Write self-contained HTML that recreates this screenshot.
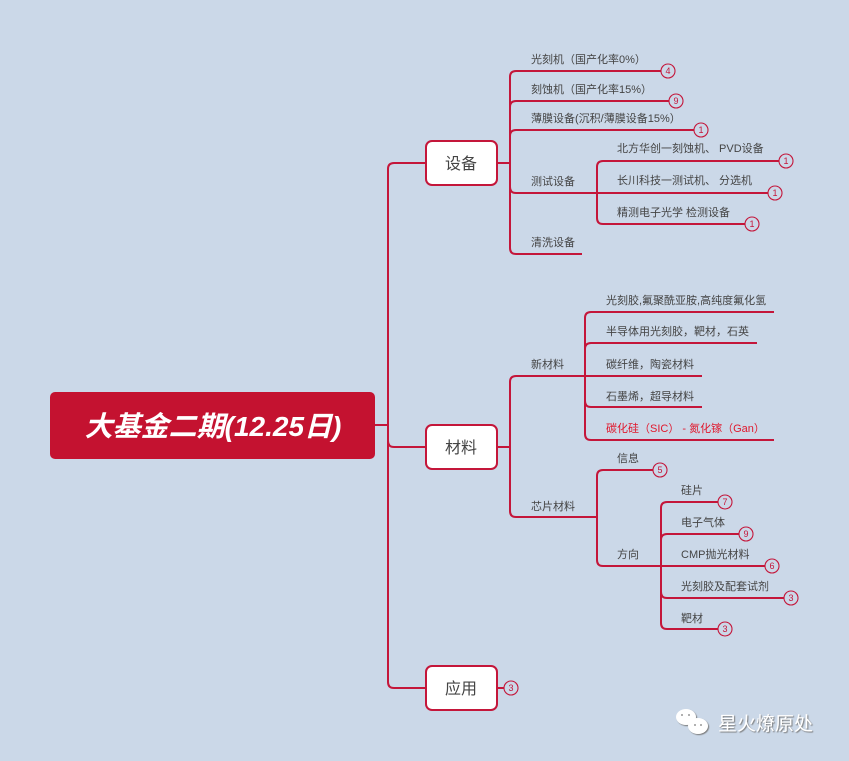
<!DOCTYPE html>
<html><head><meta charset="utf-8"><style>
html,body{margin:0;padding:0;background:#cbd8e8;}
svg{display:block;}
text{font-family:"Liberation Sans","Noto Sans CJK SC",sans-serif;}
</style></head><body>
<svg width="849" height="761" viewBox="0 0 849 761" xmlns="http://www.w3.org/2000/svg">
<defs><filter id="sh"><feDropShadow dx="1" dy="1" stdDeviation="0.6" flood-color="#777"/></filter></defs>
<rect width="849" height="761" fill="#cbd8e8"/>
<g fill="none" stroke="#c4163a" stroke-width="2">
<path d="M375 425 H388"/>
<path d="M426 163 H394 Q388 163 388 169 V682 Q388 688 394 688 H426"/>
<path d="M388 441 Q388 447 394 447 H426"/>
<path d="M497 163 H510"/>
<path d="M661 71 H516 Q510 71 510 77 V248 Q510 254 516 254 H582"/>
<path d="M510 107 Q510 101 516 101 H669"/>
<path d="M510 136 Q510 130 516 130 H694"/>
<path d="M510 187 Q510 193 516 193 H768"/>
<path d="M779 161 H603 Q597 161 597 167 V218 Q597 224 603 224 H745"/>
<path d="M497 447 H510"/>
<path d="M585 376 H516 Q510 376 510 382 V511 Q510 517 516 517 H597"/>
<path d="M774 312 H591 Q585 312 585 318 V434 Q585 440 591 440 H774"/>
<path d="M585 349 Q585 343 591 343 H757"/>
<path d="M585 376 H702"/>
<path d="M585 401 Q585 407 591 407 H702"/>
<path d="M653 470 H603 Q597 470 597 476 V560 Q597 566 603 566 H765"/>
<path d="M718 502 H667 Q661 502 661 508 V623 Q661 629 667 629 H718"/>
<path d="M661 540 Q661 534 667 534 H739"/>
<path d="M661 592 Q661 598 667 598 H784"/>
<path d="M497 688 H504"/>
</g>
<rect x="50" y="392" width="325" height="67" rx="5" fill="#c41230"/>
<text x="213" y="436" text-anchor="middle" font-size="28" font-weight="bold" font-style="italic" fill="#fff">大基金二期(12.25日)</text>
<g fill="#fff" stroke="#c4163a" stroke-width="2">
<rect x="426" y="141" width="71" height="44" rx="6"/>
<rect x="426" y="425" width="71" height="44" rx="6"/>
<rect x="426" y="666" width="71" height="44" rx="6"/>
</g>
<g font-size="16" fill="#444" text-anchor="middle">
<text x="461" y="169">设备</text>
<text x="461" y="453">材料</text>
<text x="461" y="694">应用</text>
</g>
<g font-size="11" fill="#444">
<text x="531" y="63">光刻机（国产化率0%）</text>
<text x="531" y="93">刻蚀机（国产化率15%）</text>
<text x="531" y="122">薄膜设备(沉积/薄膜设备15%）</text>
<text x="531" y="185">测试设备</text>
<text x="531" y="246">清洗设备</text>
<text x="617" y="152">北方华创一刻蚀机、 PVD设备</text>
<text x="617" y="184">长川科技一测试机、 分选机</text>
<text x="617" y="216">精测电子光学 检测设备</text>
<text x="531" y="368">新材料</text>
<text x="606" y="304">光刻胶,氟聚酰亚胺,高纯度氟化氢</text>
<text x="606" y="335">半导体用光刻胶，靶材，石英</text>
<text x="606" y="368">碳纤维，陶瓷材料</text>
<text x="606" y="400">石墨烯，超导材料</text>
<text x="606" y="432" fill="#e0182d">碳化硅（SIC） - 氮化镓（Gan）</text>
<text x="531" y="510">芯片材料</text>
<text x="617" y="462">信息</text>
<text x="617" y="558">方向</text>
<text x="681" y="494">硅片</text>
<text x="681" y="526">电子气体</text>
<text x="681" y="558">CMP抛光材料</text>
<text x="681" y="590">光刻胶及配套试剂</text>
<text x="681" y="622">靶材</text>
</g>
<g font-size="9" fill="#c4163a" text-anchor="middle">
<g fill="#cbd8e8" stroke="#c4163a" stroke-width="1.1">
<circle cx="668" cy="71" r="7"/><circle cx="676" cy="101" r="7"/><circle cx="701" cy="130" r="7"/>
<circle cx="786" cy="161" r="7"/><circle cx="775" cy="193" r="7"/><circle cx="752" cy="224" r="7"/>
<circle cx="660" cy="470" r="7"/><circle cx="725" cy="502" r="7"/><circle cx="746" cy="534" r="7"/>
<circle cx="772" cy="566" r="7"/><circle cx="791" cy="598" r="7"/><circle cx="725" cy="629" r="7"/>
<circle cx="511" cy="688" r="7"/>
</g>
<text x="668" y="74">4</text><text x="676" y="104">9</text><text x="701" y="133">1</text>
<text x="786" y="164">1</text><text x="775" y="196">1</text><text x="752" y="227">1</text>
<text x="660" y="473">5</text><text x="725" y="505">7</text><text x="746" y="537">9</text>
<text x="772" y="569">6</text><text x="791" y="601">3</text><text x="725" y="632">3</text>
<text x="511" y="691">3</text>
</g>
<g fill="#fff" filter="url(#sh)">
<ellipse cx="686" cy="717" rx="10" ry="8"/>
<ellipse cx="698" cy="726" rx="10" ry="8"/>
</g>
<g fill="#999"><circle cx="682" cy="715" r="1"/><circle cx="689" cy="715" r="1"/><circle cx="695" cy="725" r="1"/><circle cx="701" cy="725" r="1"/></g>
<text x="718" y="730" font-size="19" fill="#fff" filter="url(#sh)">星火燎原处</text>
</svg>
</body></html>
